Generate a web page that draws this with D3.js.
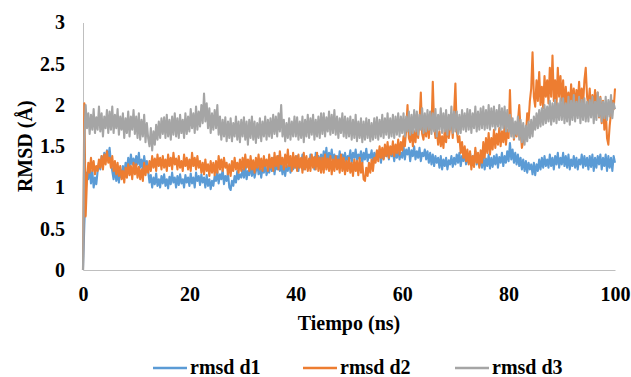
<!DOCTYPE html>
<html>
<head>
<meta charset="utf-8">
<script src="https://cdn.jsdelivr.net/npm/d3@7"></script>
<style>
  body { margin: 0; background: #fff; }
  svg { display: block; }
</style>
</head>
<body>
<svg id="chart" width="631" height="377"></svg>
<script>
const timeNs = d3.range(0, 100.001, 0.25);

const rmsdD1 = [
  0, 0.55, 0.95, 1.18, 1.1, 1.25, 1.05, 1.2, 1.0, 1.12,
  1.04, 1.2, 1.3, 1.22, 1.38, 1.28, 1.42, 1.32, 1.45, 1.36,
  1.48, 1.3, 1.2, 1.1, 1.25, 1.08, 1.18, 1.06, 1.22, 1.12,
  1.26, 1.15, 1.3, 1.22, 1.36, 1.24, 1.4, 1.28, 1.35, 1.25,
  1.38, 1.28, 1.42, 1.24, 1.34, 1.22, 1.38, 1.26, 1.32, 1.2,
  1.06, 1.15, 1.0, 1.12, 1.04, 1.17, 1.02, 1.1, 1.0, 1.14,
  1.05, 1.16, 1.02, 1.1, 0.99, 1.13, 1.04, 1.18, 1.06, 1.12,
  1.0, 1.14, 1.03, 1.16, 1.05, 1.1, 1.0, 1.15, 1.06, 1.12,
  1.02, 1.17, 1.05, 1.12, 1.0, 1.18, 1.08, 1.14, 1.03, 1.16,
  1.06, 1.12, 1.0, 1.15, 1.02, 1.1, 0.98, 1.08, 1.02, 1.14,
  1.08, 1.2, 1.05, 1.16, 1.1, 1.22, 1.04, 1.14, 1.08, 1.18,
  1.0, 0.97, 1.08, 1.02, 1.14, 1.06, 1.2, 1.1, 1.16, 1.12,
  1.22, 1.12, 1.26, 1.1, 1.2, 1.15, 1.28, 1.14, 1.24, 1.12,
  1.2, 1.3, 1.16, 1.26, 1.12, 1.24, 1.18, 1.3, 1.15, 1.22,
  1.18, 1.32, 1.2, 1.36, 1.16, 1.3, 1.22, 1.38, 1.2, 1.28,
  1.16, 1.3, 1.14, 1.26, 1.2, 1.34, 1.18, 1.3, 1.22, 1.36,
  1.24, 1.38, 1.2, 1.34, 1.26, 1.4, 1.22, 1.36, 1.25, 1.32,
  1.24, 1.4, 1.28, 1.36, 1.22, 1.42, 1.3, 1.38, 1.26, 1.4,
  1.3, 1.44, 1.32, 1.48, 1.28, 1.42, 1.34, 1.46, 1.3, 1.4,
  1.26, 1.38, 1.3, 1.44, 1.28, 1.4, 1.34, 1.42, 1.3, 1.38,
  1.34, 1.45, 1.3, 1.42, 1.36, 1.46, 1.32, 1.4, 1.35, 1.44,
  1.3, 1.42, 1.34, 1.47, 1.32, 1.4, 1.36, 1.45, 1.3, 1.42,
  1.33, 1.44, 1.36, 1.46, 1.3, 1.42, 1.35, 1.48, 1.38, 1.44,
  1.34, 1.46, 1.38, 1.44, 1.32, 1.45, 1.36, 1.48, 1.34, 1.42,
  1.36, 1.5, 1.34, 1.46, 1.4, 1.48, 1.32, 1.45, 1.38, 1.5,
  1.34, 1.44, 1.36, 1.48, 1.32, 1.42, 1.38, 1.46, 1.34, 1.44,
  1.3, 1.42, 1.28, 1.4, 1.26, 1.38, 1.3, 1.36, 1.24, 1.38,
  1.22, 1.34, 1.26, 1.36, 1.22, 1.33, 1.28, 1.38, 1.25, 1.36,
  1.28, 1.4, 1.3, 1.42, 1.26, 1.38, 1.32, 1.44, 1.28, 1.36,
  1.3, 1.42, 1.27, 1.38, 1.32, 1.44, 1.28, 1.4, 1.26, 1.36,
  1.24, 1.38, 1.22, 1.35, 1.26, 1.4, 1.23, 1.36, 1.25, 1.38,
  1.28, 1.4, 1.24, 1.37, 1.3, 1.42, 1.26, 1.38, 1.3, 1.44,
  1.32, 1.54, 1.34, 1.46, 1.3, 1.42, 1.28, 1.4, 1.26, 1.36,
  1.22, 1.34, 1.2, 1.32, 1.18, 1.3, 1.22, 1.28, 1.16, 1.3,
  1.15, 1.28, 1.2, 1.34, 1.22, 1.36, 1.24, 1.38, 1.26, 1.34,
  1.24, 1.4, 1.26, 1.36, 1.22, 1.38, 1.28, 1.42, 1.24, 1.36,
  1.28, 1.42, 1.26, 1.38, 1.24, 1.4, 1.22, 1.34, 1.26, 1.38,
  1.24, 1.36, 1.22, 1.34, 1.28, 1.4, 1.24, 1.38, 1.26, 1.36,
  1.22, 1.38, 1.25, 1.4, 1.2, 1.36, 1.24, 1.38, 1.28, 1.4,
  1.22, 1.36, 1.26, 1.4, 1.2, 1.38, 1.24, 1.36, 1.2, 1.38,
  1.3
];

const rmsdD2 = [
  0, 2.02, 0.65, 1.1, 1.3, 1.18, 1.36, 1.2, 1.32, 1.16,
  1.26, 1.2, 1.34, 1.24, 1.38, 1.22, 1.4, 1.28, 1.44, 1.3,
  1.36, 1.24, 1.38, 1.2, 1.32, 1.16, 1.3, 1.14, 1.26, 1.1,
  1.2, 1.06, 1.24, 1.12, 1.28, 1.15, 1.26, 1.1, 1.3, 1.16,
  1.28, 1.12, 1.25, 1.1, 1.22, 1.08, 1.3, 1.15, 1.26, 1.18,
  1.32, 1.2, 1.38, 1.24, 1.35, 1.2, 1.4, 1.26, 1.36, 1.22,
  1.38, 1.24, 1.34, 1.2, 1.4, 1.26, 1.36, 1.22, 1.42, 1.28,
  1.35, 1.22, 1.38, 1.24, 1.32, 1.2, 1.4, 1.26, 1.36, 1.22,
  1.34, 1.2, 1.42, 1.26, 1.36, 1.22, 1.38, 1.24, 1.32, 1.18,
  1.3, 1.16, 1.34, 1.2, 1.28, 1.14, 1.32, 1.18, 1.3, 1.15,
  1.32, 1.18, 1.38, 1.22, 1.34, 1.2, 1.36, 1.24, 1.3, 1.16,
  1.28, 1.14, 1.32, 1.2, 1.36, 1.22, 1.3, 1.18, 1.34, 1.2,
  1.36, 1.22, 1.4, 1.24, 1.34, 1.2, 1.38, 1.22, 1.33, 1.18,
  1.36, 1.24, 1.4, 1.22, 1.35, 1.2, 1.38, 1.26, 1.34, 1.2,
  1.4, 1.24, 1.36, 1.2, 1.42, 1.26, 1.38, 1.22, 1.44, 1.28,
  1.36, 1.22, 1.4, 1.25, 1.46, 1.26, 1.38, 1.2, 1.42, 1.24,
  1.38, 1.2, 1.4, 1.24, 1.36, 1.18, 1.42, 1.22, 1.38, 1.2,
  1.35, 1.2, 1.4, 1.24, 1.37, 1.22, 1.42, 1.2, 1.36, 1.18,
  1.36, 1.18, 1.4, 1.22, 1.35, 1.2, 1.38, 1.16, 1.34, 1.2,
  1.38, 1.22, 1.34, 1.18, 1.4, 1.2, 1.36, 1.16, 1.32, 1.2,
  1.36, 1.18, 1.3, 1.14, 1.34, 1.2, 1.32, 1.15, 1.36, 1.18,
  1.3, 1.1, 1.08, 1.24, 1.14, 1.3, 1.18, 1.34, 1.2, 1.36,
  1.3, 1.45, 1.32, 1.5, 1.36, 1.48, 1.34, 1.52, 1.38, 1.55,
  1.36, 1.5, 1.4, 1.56, 1.38, 1.52, 1.42, 1.58, 1.4, 1.55,
  1.45, 1.62, 1.5, 1.7, 2.0, 1.6, 1.55, 1.72, 1.5, 1.68,
  1.55, 1.75, 1.6, 1.8, 2.15, 1.65, 1.58, 1.78, 1.62, 1.85,
  1.6, 1.82, 1.7, 2.28, 1.75, 1.6, 1.72, 1.52, 1.68, 1.5,
  1.62, 1.48, 1.7, 1.55, 1.78, 1.6, 1.72, 1.84, 1.6, 1.9,
  2.26, 1.7, 1.55, 1.62, 1.42, 1.55, 1.36, 1.5, 1.32, 1.46,
  1.28, 1.44, 1.22, 1.38, 1.25, 1.48, 1.3, 1.42, 1.24, 1.45,
  1.3, 1.55, 1.36, 1.6, 1.42, 1.66, 1.4, 1.6, 1.46, 1.7,
  1.48, 1.65, 1.52, 1.72, 1.5, 1.68, 1.55, 1.75, 1.52, 1.7,
  1.6, 2.18, 1.66, 1.78, 1.58, 1.72, 1.62, 1.8, 2.0, 1.7,
  1.48, 1.56, 1.7, 1.62, 1.9, 1.8, 2.05, 2.2, 2.64, 2.1,
  1.98, 2.3, 2.05, 2.4, 2.0, 2.22, 1.96, 2.35, 2.1, 2.3,
  2.02, 2.45, 2.1, 2.6, 2.05, 2.3, 2.0, 2.45, 2.1, 2.35,
  2.05, 2.3, 1.95, 2.22, 2.0, 2.15, 1.92, 2.25, 2.0, 2.2,
  1.95, 2.18, 2.02, 2.28, 1.98, 2.2, 2.0, 2.3, 2.45, 2.1,
  2.0, 2.2, 1.88, 2.12, 1.95, 2.18, 1.9, 2.15, 1.85, 2.1,
  1.78, 2.05, 1.7, 1.95, 1.6, 1.52, 1.75, 1.9, 2.05, 1.95,
  2.2
];

const rmsdD3 = [
  0, 1.6, 2.0, 1.72, 1.9, 1.65, 1.88, 1.7, 1.95, 1.66,
  1.85, 1.7, 1.98, 1.68, 1.9, 1.62, 1.86, 1.72, 1.94, 1.66,
  1.92, 1.7, 1.98, 1.66, 1.88, 1.72, 1.95, 1.64, 1.86, 1.7,
  1.9, 1.6, 1.84, 1.66, 1.92, 1.62, 1.86, 1.7, 1.94, 1.65,
  1.86, 1.6, 1.9, 1.58, 1.82, 1.62, 1.88, 1.55, 1.78, 1.6,
  1.5, 1.72, 1.45, 1.68, 1.52, 1.76, 1.58, 1.8, 1.6, 1.84,
  1.65, 1.85, 1.6, 1.88, 1.62, 1.82, 1.58, 1.86, 1.64, 1.9,
  1.62, 1.84, 1.6, 1.88, 1.66, 1.82, 1.6, 1.9, 1.65, 1.86,
  1.68, 1.95, 1.72, 1.9, 1.66, 1.98, 1.7, 1.92, 1.74, 2.0,
  1.78, 2.14, 1.8, 2.02, 1.72, 1.96, 1.66, 1.9, 1.7, 1.94,
  1.72, 2.0, 1.64, 1.86, 1.58, 1.82, 1.62, 1.85, 1.56, 1.8,
  1.6, 1.84, 1.56, 1.78, 1.62, 1.86, 1.58, 1.8, 1.55, 1.82,
  1.62, 1.85, 1.58, 1.8, 1.52, 1.82, 1.6, 1.86, 1.58, 1.8,
  1.54, 1.78, 1.6, 1.84, 1.56, 1.8, 1.62, 1.86, 1.58, 1.82,
  1.62, 1.84, 1.6, 1.88, 1.65, 1.86, 1.62, 1.9, 1.68, 2.0,
  1.62, 1.82, 1.56, 1.78, 1.6, 1.84, 1.58, 1.8, 1.62, 1.86,
  1.62, 1.85, 1.58, 1.8, 1.6, 1.86, 1.55, 1.82, 1.62, 1.88,
  1.6, 1.84, 1.64, 1.88, 1.58, 1.82, 1.62, 1.86, 1.6, 1.9,
  1.65, 1.9, 1.62, 1.85, 1.68, 1.92, 1.64, 1.88, 1.66, 1.94,
  1.64, 1.86, 1.6, 1.84, 1.66, 1.9, 1.62, 1.86, 1.6, 1.84,
  1.62, 1.86, 1.58, 1.82, 1.6, 1.88, 1.56, 1.8, 1.6, 1.84,
  1.55, 1.8, 1.58, 1.84, 1.6, 1.82, 1.56, 1.78, 1.58, 1.84,
  1.6, 1.85, 1.58, 1.82, 1.62, 1.88, 1.6, 1.84, 1.64, 1.9,
  1.6, 1.84, 1.62, 1.88, 1.6, 1.86, 1.64, 1.9, 1.62, 1.86,
  1.66, 1.9, 1.62, 1.86, 1.68, 1.92, 1.64, 1.88, 1.66, 1.94,
  1.68, 1.92, 1.64, 1.88, 1.7, 1.96, 1.66, 1.9, 1.68, 1.94,
  1.7, 1.92, 1.65, 1.9, 1.68, 1.95, 1.62, 1.88, 1.7, 1.96,
  1.66, 1.9, 1.68, 1.94, 1.64, 1.88, 1.7, 1.98, 1.66, 1.92,
  1.68, 1.92, 1.65, 1.88, 1.66, 1.94, 1.7, 1.9, 1.68, 1.95,
  1.7, 1.94, 1.66, 1.9, 1.72, 1.98, 1.68, 1.92, 1.7, 1.96,
  1.72, 1.98, 1.7, 1.94, 1.72, 2.0, 1.7, 1.96, 1.74, 1.98,
  1.7, 1.94, 1.74, 2.0, 1.7, 1.96, 1.72, 1.98, 1.68, 1.94,
  1.68, 1.88, 1.62, 1.84, 1.6, 1.8, 1.64, 1.86, 1.58, 1.82,
  1.55, 1.78, 1.52, 1.75, 1.56, 1.8, 1.6, 1.82, 1.62, 1.86,
  1.7, 1.9, 1.72, 1.94, 1.74, 1.96, 1.76, 2.0, 1.78, 1.98,
  1.8, 2.05, 1.76, 2.02, 1.8, 2.06, 1.78, 2.02, 1.82, 2.08,
  1.82, 2.08, 1.78, 2.02, 1.8, 2.1, 1.76, 2.05, 1.82, 2.12,
  1.8, 2.04, 1.84, 2.1, 1.78, 2.06, 1.82, 2.08, 1.8, 2.04,
  1.8, 2.06, 1.85, 2.1, 1.78, 2.04, 1.82, 2.15, 1.86, 2.08,
  1.8, 2.04, 1.84, 2.1, 1.82, 2.06, 1.86, 2.12, 1.84, 2.02,
  1.95
];

const seriesNames = ["rmsd d1", "rmsd d2", "rmsd d3"];
const seriesColors = ["#5B9BD5", "#ED7D31", "#A5A5A5"];
const xTicks = [0, 20, 40, 60, 80, 100];
const yTicks = [0, 0.5, 1, 1.5, 2, 2.5, 3];

const svg = d3.select("#chart");

const x = d3.scaleLinear().domain([0, 100]).range([83, 615]);
const y = d3.scaleLinear().domain([0, 3]).range([270, 22.5]);

// ejes: sin marcas, solo la linea gris y las etiquetas
const gx = svg.append("g")
  .attr("transform", `translate(0,${y(0)})`)
  .call(d3.axisBottom(x).tickValues(xTicks).tickSize(0).tickPadding(17).tickFormat(d => d));
gx.select(".domain").attr("stroke", "#bfbfbf");

const gy = svg.append("g")
  .attr("transform", `translate(${x(0)},0)`)
  .call(d3.axisLeft(y).tickValues(yTicks).tickSize(0).tickPadding(18).tickFormat(d => d));
gy.select(".domain").attr("stroke", "#bfbfbf");

// series
const allSeries = [rmsdD1, rmsdD2, rmsdD3];
const line = d3.line()
  .x((d, i) => x(timeNs[i]))
  .y(d => y(d));

svg.append("g")
  .selectAll("path")
  .data(allSeries)
  .join("path")
  .attr("d", d => line(d))
  .attr("fill", "none")
  .attr("stroke", (d, i) => seriesColors[i])
  .attr("stroke-width", 2.1)
  .attr("stroke-linejoin", "round");

// titulos
svg.append("text")
  .attr("x", (x(0) + x(100)) / 2)
  .attr("y", 330)
  .attr("text-anchor", "middle")
  .text("Tiempo (ns)");

svg.append("text")
  .attr("transform", `translate(32,${(y(0) + y(3)) / 2}) rotate(-90)`)
  .attr("text-anchor", "middle")
  .text("RMSD (Å)");

// leyenda
const legendX = [153, 303, 455];
const legend = svg.append("g")
  .selectAll("g")
  .data(seriesNames)
  .join("g")
  .attr("transform", (d, i) => `translate(${legendX[i]},368)`);

legend.append("line")
  .attr("x1", 0).attr("x2", 34)
  .attr("stroke", (d, i) => seriesColors[i])
  .attr("stroke-width", 2.5);

legend.append("text")
  .attr("x", 37)
  .attr("y", 6)
  .text(d => d);

svg.selectAll("g").attr("font-family", null).attr("font-size", null);
svg.selectAll("text")
  .style("font-family", "'Liberation Serif'")
  .style("font-weight", "bold")
  .style("font-size", "20px")
  .style("fill", "#000");
</script>
</body>
</html>
